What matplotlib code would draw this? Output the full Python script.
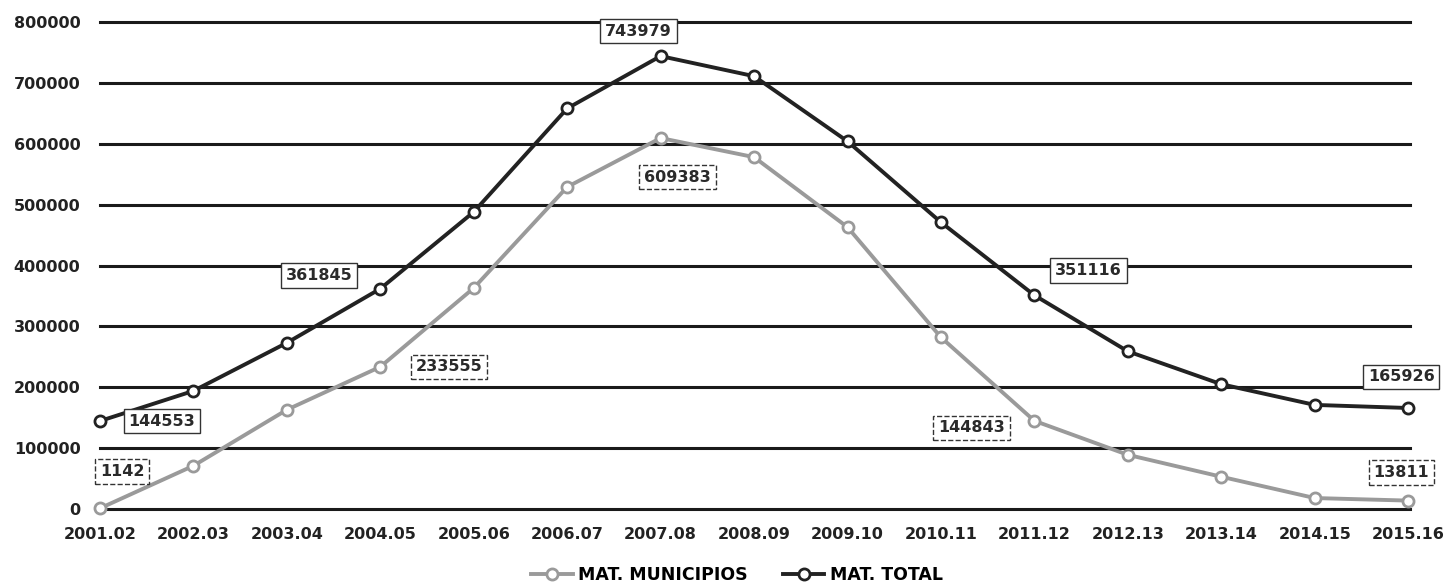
import matplotlib
matplotlib.use('Agg')
import matplotlib.pyplot as plt
from matplotlib.ticker import FuncFormatter

# School years and enrolment values
years = ['2001.02', '2002.03', '2003.04', '2004.05', '2005.06', '2006.07', '2007.08',
         '2008.09', '2009.10', '2010.11', '2011.12', '2012.13', '2013.14', '2014.15', '2015.16']
mat_municipios = [1142, 71000, 163000, 233555, 363000, 529000, 609383,
                  578000, 463000, 282000, 144843, 89000, 53000, 18000, 13811]
mat_total = [144553, 194000, 273000, 361845, 488000, 658000, 743979,
             711000, 604000, 471000, 351116, 259000, 205000, 171000, 165926]

# labelled points: (index, pixel offset of the box)
muni_labels = [(0, (22, 37)), (3, (69, 0)), (6, (17, -39)), (10, (-63, -7)), (14, (-7, 28))]
total_labels = [(0, (62, 0)), (3, (-61, 13)), (6, (-22, 25)), (10, (54, 25)), (14, (-7, 31))]

plt.rcParams['font.family'] = ['DejaVu Sans']

fig = plt.figure(figsize=(14.49, 5.87), dpi=100)
ax = fig.add_axes([100 / 1449, 78 / 587, 1310 / 1449, 487 / 587])

x = list(range(len(years)))
ax.plot(x, mat_municipios, color='#9a9a9a', lw=2.8, marker='o', ms=8, mew=2,
        mfc='white', mec='#9a9a9a', label='MAT. MUNICIPIOS', clip_on=False, zorder=3)
ax.plot(x, mat_total, color='#222222', lw=2.8, marker='o', ms=8, mew=2,
        mfc='white', mec='#222222', label='MAT. TOTAL', clip_on=False, zorder=4)

for i, off in muni_labels:
    ax.annotate(str(mat_municipios[i]), (x[i], mat_municipios[i]), xytext=off,
                textcoords='offset pixels', ha='center', va='center', fontsize=11.5,
                fontweight='bold', color='#2a2a2a', zorder=5,
                bbox=dict(boxstyle='square,pad=0.3', fc='white', ec='#333333', ls='--', lw=1))
for i, off in total_labels:
    ax.annotate(str(mat_total[i]), (x[i], mat_total[i]), xytext=off,
                textcoords='offset pixels', ha='center', va='center', fontsize=11.5,
                fontweight='bold', color='#2a2a2a', zorder=5,
                bbox=dict(boxstyle='square,pad=0.3', fc='white', ec='#333333', lw=1))

ax.set_xlim(0, 14.02)
ax.set_ylim(0, 800000)
ax.set_yticks(range(0, 800001, 100000))
ax.yaxis.set_major_formatter(FuncFormatter(lambda v, p: f'{int(v)}'))
ax.set_xticks(x)
ax.set_xticklabels(years)
ax.grid(axis='y', color='#1a1a1a', lw=2.2, clip_on=False)
ax.set_axisbelow(True)
for s in ax.spines.values():
    s.set_visible(False)
ax.tick_params(axis='both', length=0, labelsize=11.5, colors='#222222')
ax.tick_params(axis='y', pad=14)
ax.tick_params(axis='x', pad=13)
for lbl in ax.get_xticklabels() + ax.get_yticklabels():
    lbl.set_fontweight('bold')

fig.legend(loc='center', bbox_to_anchor=(737 / 1449, 12 / 587), ncol=2, frameon=False,
           prop={'size': 12.5, 'weight': 'bold'}, handlelength=2.4, columnspacing=2,
           handletextpad=0.3)

fig.savefig('out.png', dpi=100)
